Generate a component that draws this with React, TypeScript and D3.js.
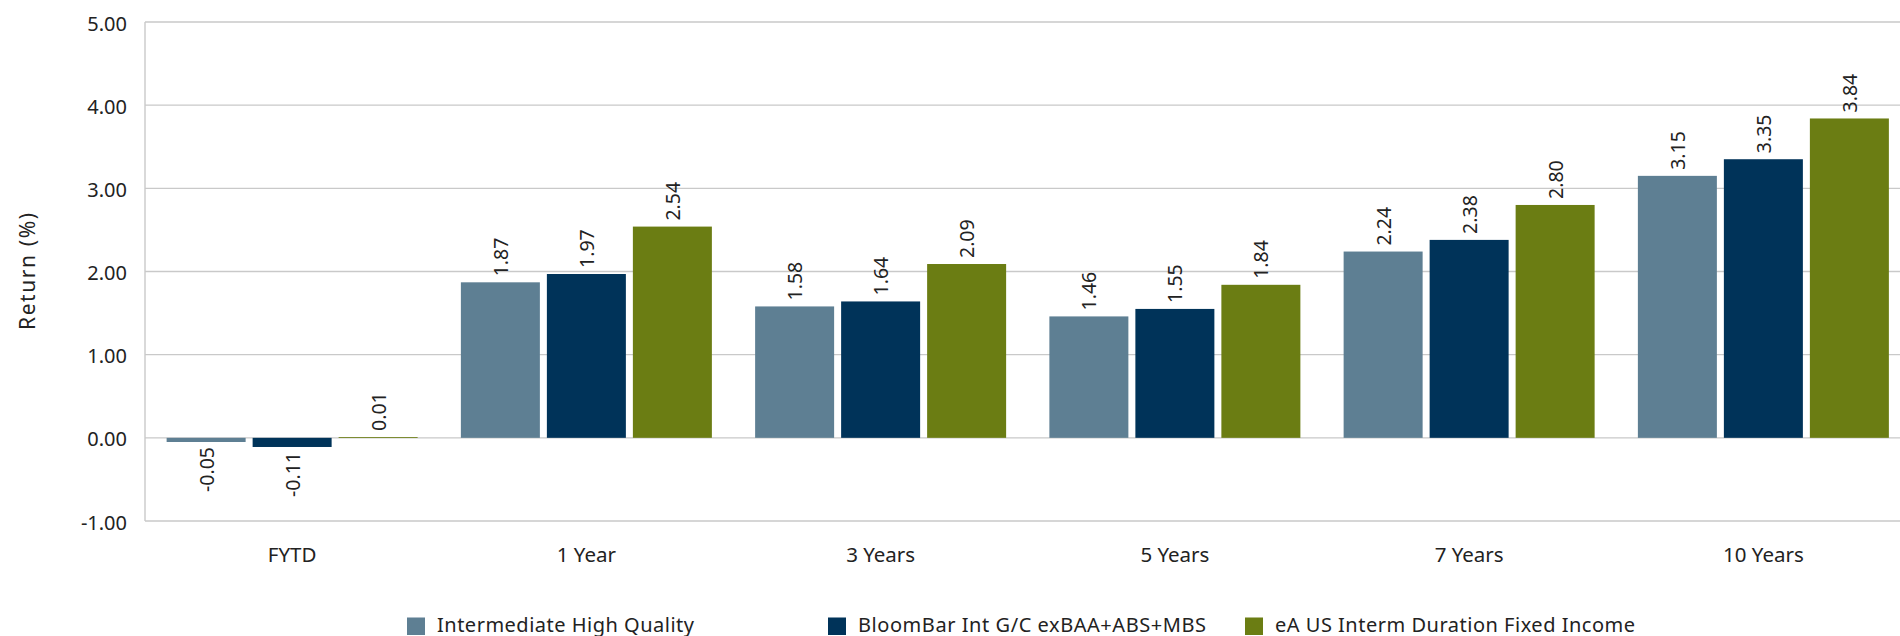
import React from "react";
import * as d3 from "d3";

const categories = ["FYTD", "1 Year", "3 Years", "5 Years", "7 Years", "10 Years"];
const seriesNames = [
  "Intermediate High Quality",
  "BloomBar Int G/C exBAA+ABS+MBS",
  "eA US Interm Duration Fixed Income",
];
const seriesColors = ["#5E7F93", "#003359", "#6B7D13"];
const intermediateHQ = [-0.05, 1.87, 1.58, 1.46, 2.24, 3.15];
const bloomBar = [-0.11, 1.97, 1.64, 1.55, 2.38, 3.35];
const eaUS = [0.01, 2.54, 2.09, 1.84, 2.8, 3.84];
const yTicks = [-1, 0, 1, 2, 3, 4, 5];

const seriesValues = [intermediateHQ, bloomBar, eaUS];

const W = 1900;
const H = 636;
const FONT = "'Noto Sans', 'DejaVu Sans', sans-serif";
const TEXT = "#222";
const GRID = "#c9c9c9";

const fmt = (v: number) => d3.format(".2f")(v).replace("\u2212", "-");

export default function App() {
  const y = d3.scaleLinear().domain([-1, 5]).range([521, 22]);
  const x = d3.scaleBand<string>().domain(categories).range([145, 1910.5]).padding(0);
  const inner = d3
    .scaleBand<number>()
    .domain([0, 1, 2])
    .range([-125.5, 125.5])
    .paddingInner(7 / 86)
    .paddingOuter(0);

  const legendX = [407, 828, 1245];
  const legendTextW = [257, 348, 360];

  return (
    <svg
      width={W}
      height={H}
      style={{ position: "absolute", left: 0, top: 0, background: "#fff" }}
      fontFamily={FONT}
    >
      {/* gridlines */}
      {yTicks.map((t) => (
        <line key={"g" + t} x1={145} x2={W} y1={y(t)} y2={y(t)} stroke={GRID} strokeWidth={1.4} />
      ))}
      <line x1={145} x2={145} y1={y(5)} y2={y(-1)} stroke={GRID} strokeWidth={1.4} />

      {/* y tick labels */}
      {yTicks.map((t) => (
        <text
          key={"t" + t}
          x={127}
          y={y(t) + 1}
          textAnchor="end"
          dominantBaseline="central"
          fontSize={20}
          fill={TEXT}
        >
          {fmt(t)}
        </text>
      ))}

      {/* y title */}
      <text
        transform={`translate(27, ${(y(5) + y(-1)) / 2}) rotate(-90)`}
        textAnchor="middle"
        dominantBaseline="central"
        fontSize={21}
        fill={TEXT}
        textLength={117}
      >
        Return (%)
      </text>

      {/* bars */}
      {seriesValues.map((vals, si) =>
        vals.map((v, ci) => {
          const cx = (x(categories[ci]) as number) + x.bandwidth() / 2;
          const bx = cx + (inner(si) as number);
          const y0 = y(0);
          const yv = y(v);
          return (
            <rect
              key={`b${si}-${ci}`}
              x={bx}
              y={Math.min(y0, yv)}
              width={inner.bandwidth()}
              height={Math.abs(yv - y0)}
              fill={seriesColors[si]}
            />
          );
        })
      )}

      {/* data labels */}
      {seriesValues.map((vals, si) =>
        vals.map((v, ci) => {
          const cx = (x(categories[ci]) as number) + x.bandwidth() / 2;
          const lx = cx + (inner(si) as number) + inner.bandwidth() / 2;
          const pos = v >= 0;
          const ly = pos ? y(v) - 6 : y(v) + 5;
          return (
            <text
              key={`l${si}-${ci}`}
              transform={`translate(${lx}, ${ly}) rotate(-90)`}
              textAnchor={pos ? "start" : "end"}
              dominantBaseline="central"
              fontSize={19.5}
              fill={TEXT}
            >
              {fmt(v)}
            </text>
          );
        })
      )}

      {/* category labels */}
      {categories.map((c) => (
        <text
          key={"c" + c}
          x={(x(c) as number) + x.bandwidth() / 2}
          y={554}
          textAnchor="middle"
          dominantBaseline="central"
          fontSize={20.5}
          fill={TEXT}
        >
          {c}
        </text>
      ))}

      {/* legend */}
      {seriesNames.map((n, i) => (
        <g key={"lg" + i}>
          <rect x={legendX[i]} y={617.5} width={18} height={17.5} fill={seriesColors[i]} />
          <text
            x={legendX[i] + 30}
            y={631.5}
            fontSize={20}
            fill={TEXT}
            textLength={legendTextW[i]}
          >
            {n}
          </text>
        </g>
      ))}
    </svg>
  );
}
